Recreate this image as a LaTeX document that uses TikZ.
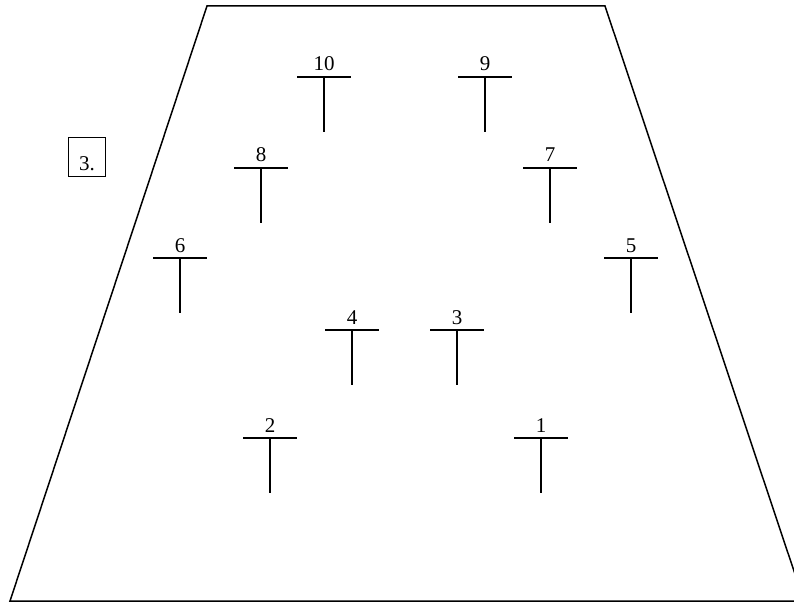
\documentclass[tikz,border=0pt]{standalone}
\usepackage{fontspec}
\setmainfont{Liberation Serif}
\begin{document}
\begin{tikzpicture}[x=1pt,y=-1pt,
  tee/.style={line width=2pt},
  num/.style={font=\fontsize{21}{24}\selectfont, inner sep=0pt, anchor=base}]
  \useasboundingbox (0,0) rectangle (794,604);
  \clip (0,0) rectangle (794,604);
  % field outline
  \draw[line width=1.5pt] (207,6) -- (605,6) -- (804,601) -- (10,601) -- cycle;
  \node[draw, line width=1pt, minimum width=37pt, minimum height=38pt, inner sep=0pt] (tag) at (86.5,157) {};
  \node[num] (tagtext) at (87,171) {3.};
  % markers
  \foreach \x/\y/\n in {541/438/1, 270/438/2, 457/330/3, 352/330/4, 631/258/5,
                        180/258/6, 550/168/7, 261/168/8, 485/77/9, 324/77/10} {
    \draw[tee] ({\x-27},\y) -- ({\x+27},\y);
    \draw[tee] (\x,\y) -- (\x,{\y+55});
    \node[num] (n\n) at (\x,{\y-6}) {\n};
  }
\end{tikzpicture}
\end{document}
